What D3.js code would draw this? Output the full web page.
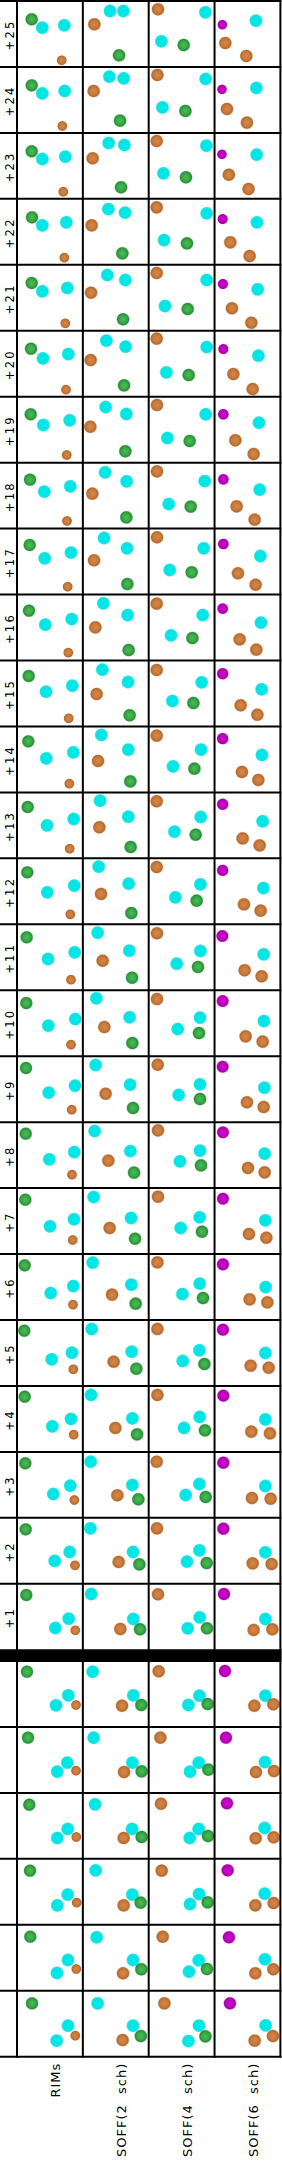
<!DOCTYPE html>
<html>
<head>
<meta charset="utf-8">
<script src="https://cdn.jsdelivr.net/npm/d3@7/dist/d3.min.js"></script>
<style>
  html, body { margin: 0; padding: 0; background: #fff; }
  svg { display: block; }
  text { font-family: "DejaVu Sans", sans-serif; fill: #000; }
</style>
</head>
<body>
<script>
// ---------- DATA ----------
const columns = ["RIMs", "SOFF(2  sch)", "SOFF(4  sch)", "SOFF(6  sch)"];
const rowLabels = ["+25","+24","+23","+22","+21","+20","+19","+18","+17","+16","+15","+14","+13",
                   "+12","+11","+10","+9","+8","+7","+6","+5","+4","+3","+2","+1"];
const contextRows = [0, 1, 2, 3, 4, 5];

// ball colours per column (slot order)
const rimsColors  = ["green", "cyan", "cyan", "orange"];
const soff2Colors = ["cyan", "cyan", "orange", "green"];
const soff4Colors = ["orange", "cyan", "cyan", "green"];
const soff6Colors = ["magenta", "cyan", "orange", "orange"];

// ball radii per slot (frame units, frame = 64 x 64)
const rimsRadius  = [6.2, 6.4, 6.4, 4.8];
const soff2Radius = [6.4, 6.4, 6.3, 6.3];
const soff4Radius = [6.3, 6.4, 6.4, 6.3];
const soff6Radius = [null, 6.4, 6.3, 6.3];
// SOFF(6 sch) magenta ball radius by row (+25 ... +1, then 6 context rows)
const soff6MagentaRadius = [4.7,4.7,4.7,5.0,5.0,5.0,5.3,5.3,5.3,5.3,5.7,5.7,5.7,5.7,
                            6.0,6.0,6.0,6.0,6.0,6.1,6.1,6.1,6.2,6.2,6.2,
                            6.2,6.2,6.2,6.2,6.2,6.2];

// ball centres [x, y] in frame coords; rows +25 ... +1, then 6 context rows
const rimsBalls = [
 [[13.7,17.3],[24.3,25.7],[46.3,23.3],[43.7,58.3]],
 [[13.7,17.4],[24.3,25.4],[46.7,23.0],[44.3,58.0]],
 [[13.7,17.4],[24.3,25.1],[47.3,22.8],[45.3,57.8]],
 [[14.0,17.5],[24.3,25.5],[48.3,22.5],[46.3,57.8]],
 [[13.7,17.2],[24.3,25.5],[49.3,22.2],[47.3,57.5]],
 [[13.0,17.0],[25.0,26.6],[50.3,22.3],[48.0,57.9]],
 [[12.7,16.6],[25.3,27.3],[51.7,22.6],[48.7,57.3]],
 [[12.0,16.0],[26.3,28.0],[52.3,22.7],[49.0,57.3]],
 [[11.7,15.4],[26.7,28.7],[53.0,23.0],[49.7,57.1]],
 [[11.0,15.1],[27.3,29.1],[53.7,23.5],[50.3,57.1]],
 [[10.7,14.5],[28.0,30.2],[54.3,24.2],[50.7,56.8]],
 [[10.3,13.9],[28.3,30.9],[55.3,24.9],[51.3,56.2]],
 [[9.7,13.6],[29.0,32.0],[55.7,25.6],[51.7,55.3]],
 [[9.3,13.0],[29.3,33.0],[56.3,26.3],[52.3,55.0]],
 [[8.7,12.0],[30.0,33.7],[56.7,27.0],[53.0,54.4]],
 [[8.3,11.8],[30.3,34.4],[57.3,27.8],[53.0,53.4]],
 [[8.0,10.8],[30.7,35.5],[57.0,28.5],[53.7,52.5]],
 [[7.7,10.5],[31.3,36.2],[56.3,28.9],[54.0,51.5]],
 [[7.3,10.6],[32.0,37.2],[56.0,30.2],[54.7,50.9]],
 [[6.7,10.3],[32.7,38.0],[55.3,31.0],[55.0,49.6]],
 [[6.3,9.7],[33.7,38.3],[54.0,31.7],[55.3,48.3]],
 [[6.7,9.7],[34.3,39.4],[53.0,32.0],[55.7,47.7]],
 [[7.3,10.4],[35.3,41.1],[52.3,32.8],[56.3,47.1]],
 [[7.7,10.5],[36.7,42.1],[51.7,33.1],[57.0,46.5]],
 [[8.3,10.2],[37.3,43.2],[50.7,33.9],[57.3,45.5]],
 [[9.0,9.7],[38.0,43.3],[50.3,33.3],[58.0,43.0]],
 [[10.0,9.7],[39.3,43.7],[49.3,34.7],[58.0,42.7]],
 [[11.3,10.8],[39.3,44.1],[49.7,35.1],[58.3,43.1]],
 [[12.0,10.8],[39.3,45.5],[49.7,34.8],[58.7,42.8]],
 [[12.3,10.9],[39.0,47.2],[50.0,34.2],[58.3,43.2]],
 [[14.0,11.6],[38.7,48.9],[50.0,33.9],[57.3,43.9]]
];

const soff2Balls = [
 [[26.2,9.0],[39.5,9.0],[10.5,22.3],[35.2,53.3]],
 [[25.5,8.7],[39.8,10.4],[9.8,23.0],[36.2,52.7]],
 [[24.8,9.1],[40.5,11.1],[8.8,24.4],[37.2,53.4]],
 [[24.5,9.2],[41.2,12.8],[7.8,25.5],[38.5,53.5]],
 [[23.5,9.2],[41.5,14.2],[7.2,26.9],[39.2,53.5]],
 [[22.5,8.9],[41.8,14.9],[6.8,28.3],[40.2,53.6]],
 [[21.8,9.3],[42.5,16.3],[6.5,29.0],[41.5,53.6]],
 [[21.2,8.7],[42.8,17.7],[8.5,30.0],[42.5,53.7]],
 [[20.2,8.4],[43.2,18.7],[10.2,30.7],[43.5,54.4]],
 [[19.5,7.8],[43.8,19.5],[11.5,31.8],[44.8,54.5]],
 [[18.5,8.2],[44.2,20.5],[12.8,32.5],[45.8,53.8]],
 [[17.5,7.5],[44.5,22.2],[14.2,33.5],[46.5,53.9]],
 [[16.2,7.3],[44.5,23.3],[15.5,33.9],[46.8,53.6]],
 [[14.8,7.3],[44.8,24.3],[17.2,34.6],[47.5,53.7]],
 [[13.8,7.4],[45.5,25.4],[18.8,35.4],[48.2,52.4]],
 [[12.5,7.1],[45.8,26.1],[20.5,35.8],[48.5,51.8]],
 [[11.8,7.8],[46.2,27.5],[21.8,36.5],[49.2,50.8]],
 [[10.8,7.9],[46.5,27.9],[24.5,37.5],[50.2,49.5]],
 [[9.8,7.9],[47.2,28.9],[25.8,38.9],[51.2,49.6]],
 [[8.8,7.6],[47.5,29.6],[28.2,39.6],[51.8,48.6]],
 [[7.8,8.0],[47.8,30.7],[29.8,40.7],[52.5,47.7]],
 [[7.2,8.0],[48.5,31.4],[31.5,41.0],[53.2,47.4]],
 [[6.8,8.8],[48.5,32.1],[33.5,42.4],[54.5,46.4]],
 [[6.5,9.5],[49.2,33.1],[34.8,43.1],[55.5,45.5]],
 [[7.3,9.2],[49.5,34.2],[36.5,44.2],[56.2,44.5]],
 [[8.8,9.7],[49.5,33.3],[38.2,43.7],[57.5,43.0]],
 [[9.8,9.7],[48.5,34.7],[40.2,44.1],[57.8,43.4]],
 [[11.2,10.4],[48.2,35.1],[39.8,44.1],[57.8,43.1]],
 [[11.8,10.5],[48.5,34.8],[39.8,45.5],[56.8,42.8]],
 [[12.8,11.5],[49.2,34.2],[39.2,47.5],[57.5,43.5]],
 [[13.8,11.6],[49.2,33.9],[38.8,48.3],[57.0,44.3]]
];

const soff4Balls = [
 [[8.3,7.3],[55.7,10.3],[11.7,39.3],[34.0,43.0]],
 [[7.7,7.0],[56.0,11.0],[12.7,39.4],[35.7,43.0]],
 [[7.0,7.1],[56.7,11.8],[13.7,39.4],[36.3,43.4]],
 [[7.0,7.5],[57.0,13.5],[14.3,40.2],[37.3,43.5]],
 [[7.0,7.2],[57.0,14.2],[15.3,40.2],[38.0,43.2]],
 [[7.0,6.9],[57.0,15.3],[16.7,40.6],[39.0,43.3]],
 [[7.3,7.3],[56.0,16.6],[17.7,40.3],[40.0,43.3]],
 [[7.3,7.7],[55.0,17.4],[19.0,40.4],[41.0,43.0]],
 [[7.3,7.7],[54.0,18.7],[20.0,40.4],[42.0,42.7]],
 [[7.0,8.1],[53.0,19.5],[21.3,39.8],[42.7,42.5]],
 [[7.0,8.5],[52.0,20.8],[22.7,39.5],[43.7,41.5]],
 [[7.0,8.2],[51.3,22.2],[23.3,38.9],[44.7,41.2]],
 [[7.0,7.9],[51.0,23.6],[24.7,38.3],[46.0,41.3]],
 [[7.0,7.7],[50.7,25.0],[25.7,38.0],[47.0,41.3]],
 [[7.3,8.0],[50.7,25.7],[27.0,38.4],[48.3,41.7]],
 [[7.3,7.8],[50.3,26.4],[28.0,37.8],[49.3,41.8]],
 [[8.0,7.5],[50.3,27.1],[29.0,37.8],[50.3,41.8]],
 [[8.3,7.2],[50.3,27.5],[30.3,38.2],[51.3,42.2]],
 [[8.3,7.6],[50.0,28.2],[31.0,38.9],[52.3,42.6]],
 [[7.7,7.3],[50.0,28.6],[32.7,39.0],[53.3,43.0]],
 [[7.7,8.0],[49.7,29.3],[33.0,40.0],[54.7,43.0]],
 [[7.7,8.0],[50.0,30.0],[34.3,41.0],[55.3,43.4]],
 [[7.0,8.8],[49.7,31.1],[36.0,42.1],[56.0,44.1]],
 [[7.3,9.5],[49.7,31.5],[37.3,42.8],[57.0,44.2]],
 [[8.3,9.5],[50.0,32.5],[38.0,43.5],[57.3,43.5]],
 [[9.0,9.3],[49.7,33.7],[38.7,43.0],[58.0,42.0]],
 [[10.7,9.7],[49.0,34.7],[40.3,43.7],[58.7,41.7]],
 [[11.3,9.8],[49.0,35.1],[40.0,44.1],[58.3,42.1]],
 [[12.0,10.8],[49.3,34.2],[40.3,44.2],[58.0,42.5]],
 [[13.0,10.9],[49.0,34.5],[39.3,45.9],[57.3,43.2]],
 [[14.7,11.6],[49.3,33.9],[38.7,49.3],[55.7,44.6]]
];

const soff6Balls = [
 [[6.8,22.7],[40.4,18.7],[9.8,41.0],[30.8,54.0]],
 [[6.4,21.4],[40.8,20.0],[11.4,41.0],[31.4,54.7]],
 [[6.4,20.4],[41.1,20.8],[13.3,40.8],[33.0,55.1]],
 [[7.1,19.2],[41.4,22.5],[14.8,42.5],[34.1,56.2]],
 [[7.4,18.2],[42.1,23.5],[16.4,42.5],[35.8,56.9]],
 [[7.8,17.3],[42.8,23.9],[17.8,42.3],[37.1,57.3]],
 [[7.8,16.6],[43.4,25.0],[19.8,42.6],[38.1,56.3]],
 [[7.8,15.7],[44.1,26.0],[21.1,42.7],[39.1,56.0]],
 [[7.8,14.4],[44.8,26.4],[22.4,43.7],[40.1,55.1]],
 [[7.1,13.1],[45.4,27.1],[24.1,43.8],[40.8,54.1]],
 [[7.1,12.2],[46.1,27.8],[25.1,43.8],[41.8,53.2]],
 [[7.1,11.2],[46.4,27.5],[26.4,44.5],[42.8,52.5]],
 [[7.1,10.9],[47.1,27.9],[27.1,45.0],[44.1,52.0]],
 [[7.1,11.0],[47.8,28.7],[28.4,45.0],[45.1,51.3]],
 [[6.8,10.7],[48.1,29.0],[29.1,45.0],[46.1,51.0]],
 [[7.1,9.8],[48.4,29.8],[30.1,45.1],[47.1,50.4]],
 [[7.1,9.5],[48.8,30.5],[31.4,45.1],[48.1,49.8]],
 [[7.4,9.2],[49.1,30.5],[32.4,44.8],[49.1,49.2]],
 [[7.4,9.6],[49.8,31.2],[33.4,44.9],[50.8,48.6]],
 [[7.4,9.3],[50.1,32.0],[34.1,44.3],[51.8,47.3]],
 [[7.4,8.7],[49.8,32.0],[35.1,44.7],[53.1,46.7]],
 [[7.8,8.7],[49.8,32.4],[35.8,44.7],[54.4,46.4]],
 [[7.8,9.8],[49.8,33.1],[36.4,45.1],[55.1,45.8]],
 [[7.8,9.8],[49.8,33.5],[37.1,44.5],[56.1,45.2]],
 [[8.4,9.2],[49.8,34.2],[38.1,45.2],[56.8,44.5]],
 [[9.4,9.0],[49.8,33.7],[38.8,43.7],[57.8,42.3]],
 [[10.4,9.7],[49.4,34.1],[40.4,44.1],[58.4,43.1]],
 [[11.4,9.4],[49.1,34.1],[40.1,44.4],[58.1,43.4]],
 [[12.1,10.5],[49.1,33.8],[39.8,45.5],[58.1,43.2]],
 [[13.4,11.5],[49.4,33.5],[39.8,47.5],[57.8,43.5]],
 [[14.4,11.6],[50.1,33.6],[39.1,48.9],[57.4,44.3]]
];

// ---------- LAYOUT ----------
const W = 282, H = 2161;
const svg = d3.select("body").append("svg").attr("width", W).attr("height", H);

const colorMap = {
  cyan:    { c0: "#00eaea", c1: "#00e6e6", c2: "#18e0e0" },
  green:   { c0: "#4cbc58", c1: "#38a846", c2: "#2a8f38" },
  orange:  { c0: "#d5874a", c1: "#c97a3a", c2: "#b56a2e" },
  magenta: { c0: "#cc10cc", c1: "#c000c0", c2: "#a800a8" }
};
const defs = svg.append("defs");
Object.entries(colorMap).forEach(([name, c]) => {
  const g = defs.append("radialGradient").attr("id", "g-" + name);
  g.append("stop").attr("offset", "0%").attr("stop-color", c.c0);
  g.append("stop").attr("offset", "55%").attr("stop-color", c.c1);
  g.append("stop").attr("offset", "82%").attr("stop-color", c.c2);
  g.append("stop").attr("offset", "100%").attr("stop-color", c.c2).attr("stop-opacity", 0.15);
});

const x = d3.scaleBand().domain(columns).range([17, 280.4]);
const yTop = d3.scaleBand().domain(rowLabels).range([1, 1649.75]);
const yCtx = d3.scaleBand().domain(contextRows).range([1661, 2056.7]);
const frame = d3.scaleLinear().domain([0, 64]).range([0, 64]);
const rScale = d3.scaleLinear().domain([0, 10]).range([0, 10]);

const colSpecs = [
  { balls: rimsBalls,  colors: rimsColors,  radius: rimsRadius },
  { balls: soff2Balls, colors: soff2Colors, radius: soff2Radius },
  { balls: soff4Balls, colors: soff4Colors, radius: soff4Radius },
  { balls: soff6Balls, colors: soff6Colors, radius: soff6Radius }
];

const rowTops = rowLabels.map(r => yTop(r)).concat(contextRows.map(j => yCtx(j)));

const cells = svg.append("g");
colSpecs.forEach((spec, ci) => {
  const cx0 = x(columns[ci]) + 1;
  spec.balls.forEach((row, ri) => {
    const g = cells.append("g").attr("transform", `translate(${cx0},${rowTops[ri] + 1})`);
    g.selectAll("circle").data(row).join("circle")
      .attr("cx", d => frame(d[0]))
      .attr("cy", d => frame(d[1]))
      .attr("r", (d, k) => rScale((spec.radius[k] == null ? soff6MagentaRadius[ri] : spec.radius[k]) + 0.5))
      .attr("fill", (d, k) => `url(#g-${spec.colors[k]})`);
  });
});

// ---------- GRID ----------
const grid = svg.append("g").attr("stroke", "#000").attr("stroke-width", 2).attr("fill", "none");
const right = x.range()[1];
const bottom = yCtx.range()[1];
columns.forEach(c => grid.append("line").attr("x1", x(c)).attr("x2", x(c)).attr("y1", 0).attr("y2", bottom + 1));
grid.append("line").attr("x1", right).attr("x2", right).attr("y1", 0).attr("y2", bottom + 1);
rowLabels.forEach(r => grid.append("line").attr("x1", 0).attr("x2", right + 1).attr("y1", yTop(r)).attr("y2", yTop(r)));
contextRows.slice(1).forEach(j => grid.append("line").attr("x1", 0).attr("x2", right + 1).attr("y1", yCtx(j)).attr("y2", yCtx(j)));
grid.append("line").attr("x1", 0).attr("x2", right + 1).attr("y1", bottom).attr("y2", bottom);
svg.append("rect").attr("x", 0).attr("y", yTop.range()[1] - 0.5)
  .attr("width", right + 1).attr("height", yCtx(0) + 1 - yTop.range()[1] + 0.5).attr("fill", "#000");

// ---------- LABELS ----------
svg.append("g").selectAll("text").data(rowLabels).join("text")
  .attr("transform", d => `translate(14,${yTop(d) + yTop.bandwidth() / 2 + 1}) rotate(-90)`)
  .attr("text-anchor", "middle")
  .attr("font-size", 11.5)
  .attr("letter-spacing", 2.3)
  .text(d => d);

svg.append("g").selectAll("text").data(columns).join("text")
  .attr("transform", d => `translate(${x(d) + x.bandwidth() / 2 + 10.5},${bottom + 6}) rotate(-90)`)
  .attr("text-anchor", "end")
  .attr("font-size", 13)
  .attr("letter-spacing", 1)
  .attr("xml:space", "preserve")
  .style("white-space", "pre")
  .text(d => d);
</script>
</body>
</html>
